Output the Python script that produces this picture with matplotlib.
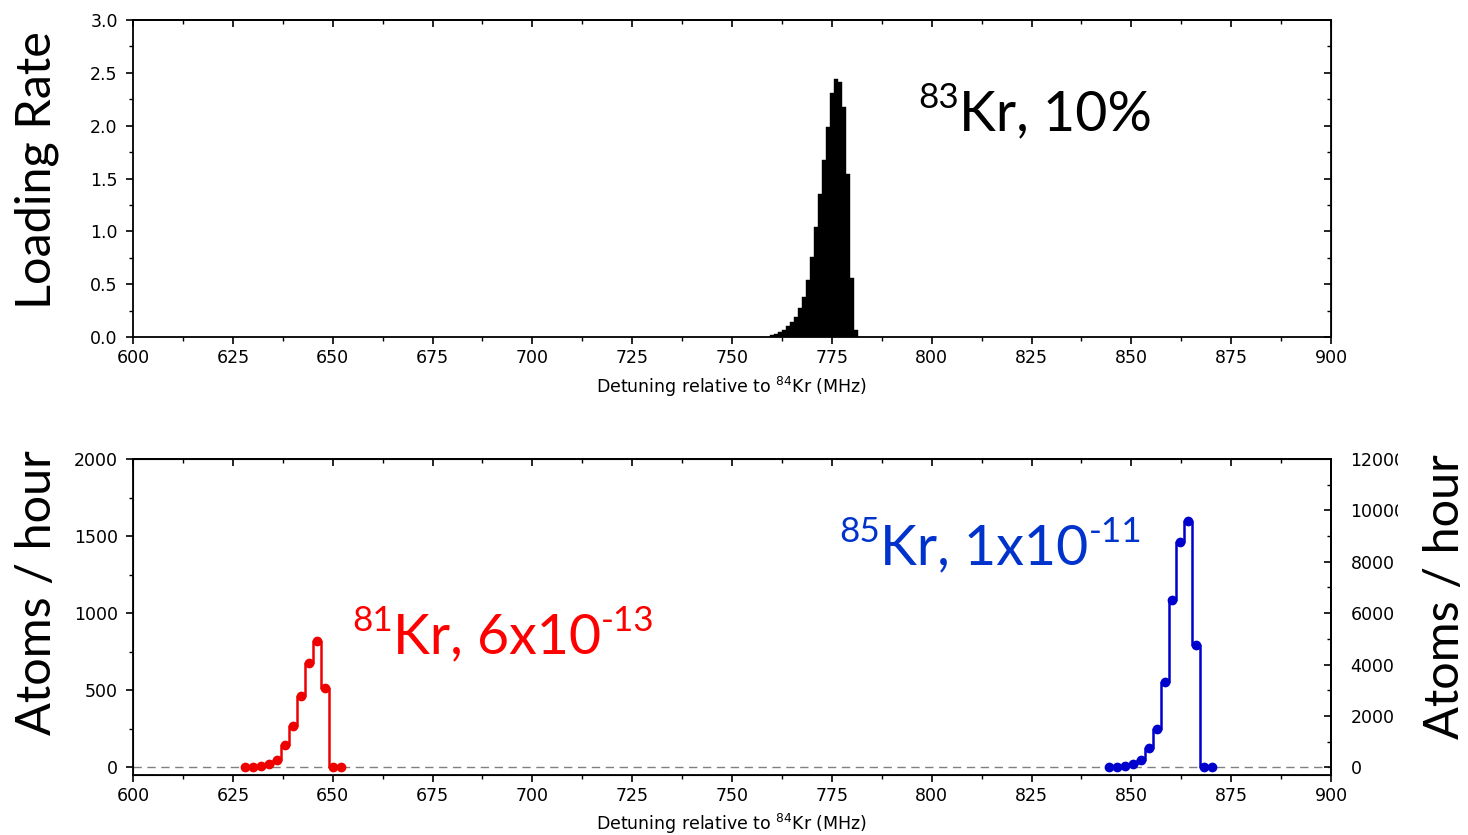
import matplotlib
matplotlib.use("Agg")
from matplotlib import pyplot as plt
from matplotlib.patches import Rectangle
from matplotlib.ticker import MultipleLocator

# Kr-83 loading rate histogram (1 MHz bins)
kr83_freq = [760, 761, 762, 763, 764, 765, 766, 767, 768, 769, 770,
             771, 772, 773, 774, 775, 776, 777, 778, 779, 780, 781]
kr83_rate = [0.02, 0.025, 0.045, 0.07, 0.10, 0.14, 0.19, 0.27, 0.38, 0.54, 0.76,
             1.04, 1.35, 1.68, 1.99, 2.31, 2.44, 2.41, 2.18, 1.54, 0.56, 0.07]

# Kr-81 atoms / hour (left axis)
kr81_freq = [628, 630, 632, 634, 636, 638, 640, 642, 644, 646, 648, 650, 652]
kr81_atoms = [0, 0, 8, 18, 50, 142, 265, 460, 675, 822, 513, 0, 0]

# Kr-85 atoms / hour (right axis)
kr85_freq = [844.3, 846.3, 848.3, 850.3, 852.3, 854.3, 856.3,
             858.3, 860.3, 862.3, 864.3, 866.3, 868.3, 870.3]
kr85_atoms = [0, 0, 66, 117, 300, 765, 1490, 3310, 6520, 8780, 9590, 4765, 0, 0]

x_ticks = [600, 625, 650, 675, 700, 725, 750, 775, 800, 825, 850, 875, 900]

TICK_FONT = "DejaVu Sans"
BIG_FONT = "Lato"
TICK_SIZE = 12.5
RED = "#ee0000"
BLUE = "#0000cc"
XLABEL = "Detuning relative to $^{84}$Kr (MHz)"


def style_axis(ax):
    ax.set_xlim(600, 900)
    ax.set_xticks(x_ticks)
    ax.xaxis.set_minor_locator(MultipleLocator(12.5))
    ax.tick_params(axis="x", which="both", direction="out", top=False)
    ax.tick_params(axis="y", which="both", direction="out", right=False, pad=6)
    ax.tick_params(which="major", length=5, width=1.2, labelsize=TICK_SIZE)
    ax.tick_params(which="minor", length=3, width=1.0)
    for side in ax.spines.values():
        side.set_linewidth(1.3)
    for lab in ax.get_xticklabels() + ax.get_yticklabels():
        lab.set_fontfamily(TICK_FONT)
    # inward ticks on the top edge, like Origin
    sec = ax.secondary_xaxis("top")
    sec.set_xticks(x_ticks)
    sec.xaxis.set_minor_locator(MultipleLocator(12.5))
    sec.tick_params(which="both", direction="in", labeltop=False)
    sec.tick_params(which="major", length=5, width=1.2)
    sec.tick_params(which="minor", length=3, width=1.0)
    sec.spines["top"].set_linewidth(1.3)


def rich_label(fig, x, y, parts, size, color):
    """Write text pieces one after another on a common baseline; sup=True raises a piece."""
    renderer = fig.canvas.get_renderer()
    px = x * fig.bbox.width
    py = y * fig.bbox.height
    for txt, sup in parts:
        fs = size * 0.63 if sup else size
        dy = size * 1.389 * 0.40 if sup else 0
        t = fig.text(px / fig.bbox.width, (py + dy) / fig.bbox.height, txt,
                     fontsize=fs, fontfamily=BIG_FONT, color=color,
                     ha="left", va="baseline")
        px = t.get_window_extent(renderer).x1


fig = plt.figure(figsize=(14.68, 8.35), dpi=100)

# ---- top panel ----
ax1 = fig.add_axes([0.0906, 0.5964, 0.8161, 0.3796])
ax1.bar(kr83_freq, kr83_rate, width=1.0, color="black", edgecolor="black", linewidth=0.3)
ax1.set_ylim(0, 3.0)
ax1.set_yticks([0.0, 0.5, 1.0, 1.5, 2.0, 2.5, 3.0])
ax1.set_yticklabels(["0.0", "0.5", "1.0", "1.5", "2.0", "2.5", "3.0"])
ax1.yaxis.set_minor_locator(MultipleLocator(0.25))
style_axis(ax1)
sec_y = ax1.secondary_yaxis("right")
sec_y.set_yticks([0.0, 0.5, 1.0, 1.5, 2.0, 2.5, 3.0])
sec_y.yaxis.set_minor_locator(MultipleLocator(0.25))
sec_y.tick_params(which="both", direction="in", labelright=False)
sec_y.tick_params(which="major", length=5, width=1.2)
sec_y.tick_params(which="minor", length=3, width=1.0)
ax1.set_xlabel(XLABEL, fontsize=12.5, fontfamily=TICK_FONT, labelpad=6)
fig.text(0.025, 0.796, "Loading Rate", rotation=90, ha="center", va="center",
         fontsize=35, fontfamily=BIG_FONT)

# ---- bottom panel ----
ax2 = fig.add_axes([0.0906, 0.0719, 0.8161, 0.3784])
ax2.axhline(0, color="gray", linestyle=(0, (6, 4)), linewidth=1.0, zorder=1)
ax2.plot(kr81_freq, kr81_atoms, drawstyle="steps-mid", color=RED, linewidth=1.8,
         zorder=3)
ax2.plot(kr81_freq, kr81_atoms, "o", color=RED, markersize=6, zorder=4)
ax2.set_ylim(-50, 2000)
ax2.set_yticks([0, 500, 1000, 1500, 2000])
ax2.yaxis.set_minor_locator(MultipleLocator(250))
style_axis(ax2)
ax2.set_xlabel(XLABEL, fontsize=12.5, fontfamily=TICK_FONT, labelpad=5)

ax3 = ax2.twinx()
ax3.plot(kr85_freq, kr85_atoms, drawstyle="steps-mid", color=BLUE, linewidth=1.8,
         zorder=3)
ax3.plot(kr85_freq, kr85_atoms, "o", color=BLUE, markersize=6, zorder=4)
ax3.set_ylim(-300, 12000)
ax3.set_yticks([0, 2000, 4000, 6000, 8000, 10000, 12000])
ax3.yaxis.set_minor_locator(MultipleLocator(1000))
ax3.tick_params(axis="y", which="both", direction="in", pad=14)
ax3.tick_params(which="major", length=5, width=1.2, labelsize=TICK_SIZE)
ax3.tick_params(which="minor", length=3, width=1.0)
ax3.spines["right"].set_linewidth(1.3)
clip = Rectangle((0, 0), 1398 / 1468, 1, transform=fig.transFigure)
for tick in ax3.yaxis.get_major_ticks():
    tick.label2.set_fontfamily(TICK_FONT)
    tick.label2.set_clip_path(clip)

fig.text(0.025, 0.29, "Atoms / hour", rotation=90, ha="center", va="center",
         fontsize=35, fontfamily=BIG_FONT)
fig.text(0.984, 0.286, "Atoms / hour", rotation=90, ha="center", va="center",
         fontsize=35, fontfamily=BIG_FONT)

# isotope annotations
rich_label(fig, 0.6253, 0.844, [("83", True), ("Kr, 10%", False)], 40, "black")
rich_label(fig, 0.2398, 0.218, [("81", True), ("Kr, 6x10", False), ("-13", True)],
           40, "#ff0000")
rich_label(fig, 0.572, 0.3246, [("85", True), ("Kr, 1x10", False), ("-11", True)],
           40, "#0033cc")

fig.savefig("out.png", dpi=100)
